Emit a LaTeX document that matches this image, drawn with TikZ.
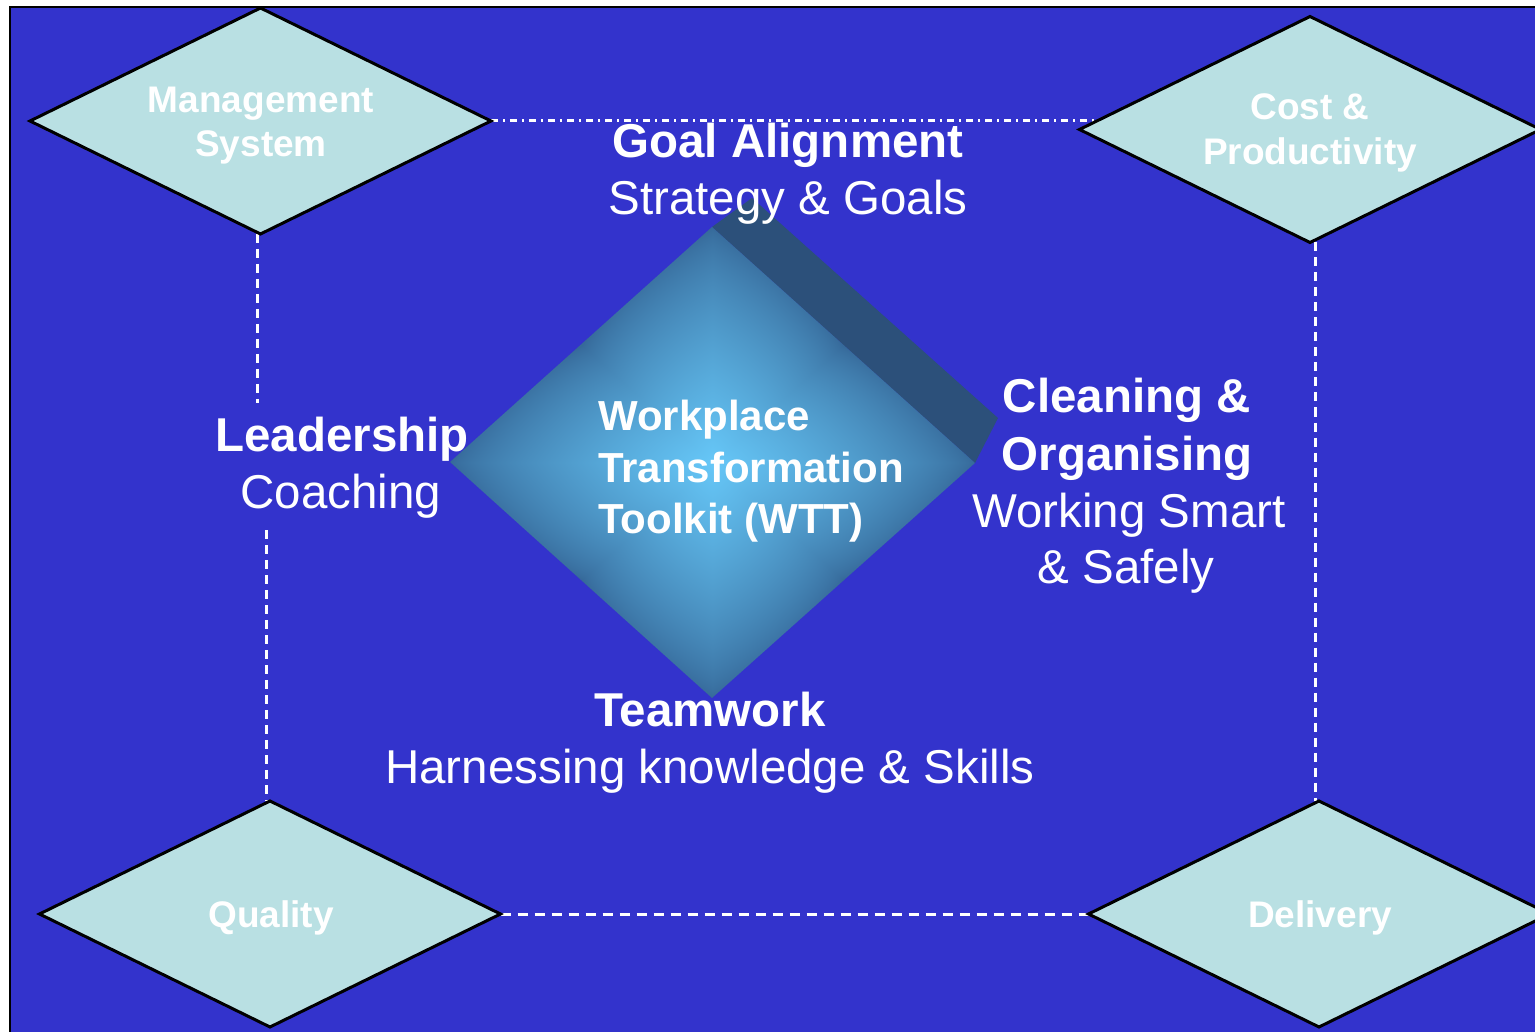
\documentclass[tikz,border=0pt]{standalone}
\usepackage{fontspec}
\setmainfont{Liberation Sans}
\usetikzlibrary{shapes.geometric}
\definecolor{bgblue}{RGB}{51,51,204}
\definecolor{dfill}{RGB}{185,224,227}
\definecolor{bandcol}{RGB}{44,80,122}
\pgfdeclarefunctionalshading{wttshade}{\pgfpointorigin}{\pgfpoint{100bp}{100bp}}{}{
  50 sub 25 div abs exch 50 sub 25 div abs
  2 copy dup mul exch dup mul add sqrt
  3 1 roll
  2 copy gt {exch} if pop
  0.6 mul add neg 1 add
  dup 0 lt {pop 0} if
  dup sqrt mul sqrt
  dup 0.19 mul 0.21 add exch
  dup 0.37 mul 0.41 add exch
  0.37 mul 0.60 add
}
\pgfdeclarelayer{back}
\pgfdeclarelayer{lines}
\pgfsetlayers{back,lines,main}
\begin{document}
\begin{tikzpicture}[x=1pt,y=-1pt,
  cornerbox/.style={diamond, draw=black, line width=3pt, fill=dfill, inner sep=0pt, outer sep=0pt,
    minimum width=461pt, minimum height=226pt},
  ctext/.style={text=white, anchor=base, inner sep=0pt, font=\fontsize{37}{44}\selectfont\bfseries},
  lbl/.style={text=white, anchor=base, inner sep=0pt, font=\fontsize{47.5}{57}\selectfont},
  lblb/.style={text=white, anchor=base, inner sep=0pt, font=\fontsize{47.5}{57}\selectfont\bfseries},
  wtt/.style={text=white, anchor=base west, inner sep=0pt, font=\fontsize{42}{51}\selectfont\bfseries},
  dashline/.style={white, line width=3pt, dash pattern=on 9pt off 6pt},
  dashline2/.style={white, line width=3pt, dash pattern=on 10pt off 7pt},
  dashdotline/.style={white, line width=3pt, dash pattern=on 7pt off 5pt on 2pt off 5pt}]
\useasboundingbox (0,0) rectangle (1535,1032);
\begin{pgfonlayer}{back}
  \fill[white] (0,0) rectangle (1535,1032);
  \fill[bgblue] (10,7) rectangle (1545,1042);
  \draw[black, line width=2pt] (10,1042) -- (10,7) -- (1545,7);
\end{pgfonlayer}

% corner diamonds
\node[cornerbox] (mgmt) at (260.5,121) {};
\node[cornerbox] (cost) at (1310,129.5) {};
\node[cornerbox] (quality) at (270,914) {};
\node[cornerbox] (delivery) at (1319,914) {};

% connectors
\coordinate (ltop) at (257,403);
\coordinate (lbot) at (266,530);
\coordinate (rx) at (1315,0);
\begin{pgfonlayer}{lines}
  \draw[dashdotline] (mgmt.east) -- (mgmt.east -| cost.center);
  \draw[dashline] (ltop |- mgmt.south) -- (ltop);
  \draw[dashline] (lbot) -- (lbot |- quality.north);
  \draw[dashline] (rx |- cost.south) -- (rx |- delivery.north);
  \draw[dashline2] (quality.east) -- (delivery.west);
\end{pgfonlayer}

% central diamond
\coordinate (wt) at (712,227);
\coordinate (wr) at (975,463);
\coordinate (wb) at (712,698);
\coordinate (wl) at (450,462);
\coordinate (bc) at (998,418);
\coordinate (bd) at (752,198);
\fill[bandcol] (wt) -- (wr) -- (bc) -- (bd) -- cycle;
\shade[shading=wttshade] (wt) -- (wr) -- (wb) -- (wl) -- cycle;

% corner texts
\node[ctext] (mgmt1) at (261,113) {Management};
\node[ctext] (mgmt2) at (261,157) {System};
\node[ctext] (cost1) at (1310,120) {Cost \&};
\node[ctext] (cost2) at (1310,165) {Productivity};
\node[ctext] (qualt) at (271,927) {Quality};
\node[ctext] (delit) at (1320,927) {Delivery};

% labels
\node[lblb] (goal1) at (788,158) {Goal Alignment};
\node[lbl] (goal2) at (788,215) {Strategy \& Goals};
\node[lblb] (lead1) at (342,451) {Leadership};
\node[lbl] (lead2) at (341,508) {Coaching};
\node[lblb] (clean1) at (1127,413) {Cleaning \&};
\node[lblb] (clean2) at (1127,470) {Organising};
\node[lbl] (clean3) at (1129,527) {Working Smart};
\node[lbl] (clean4) at (1126,583) {\& Safely};
\node[lblb] (team1) at (710,726) {Teamwork};
\node[lbl] (team2) at (710,783) {Harnessing knowledge \& Skills};

% WTT
\node[wtt] (wtt1) at (598,431) {Workplace};
\node[wtt] (wtt2) at (598,482) {Transformation};
\node[wtt] (wtt3) at (598,533) {Toolkit (WTT)};
\end{tikzpicture}
\end{document}
